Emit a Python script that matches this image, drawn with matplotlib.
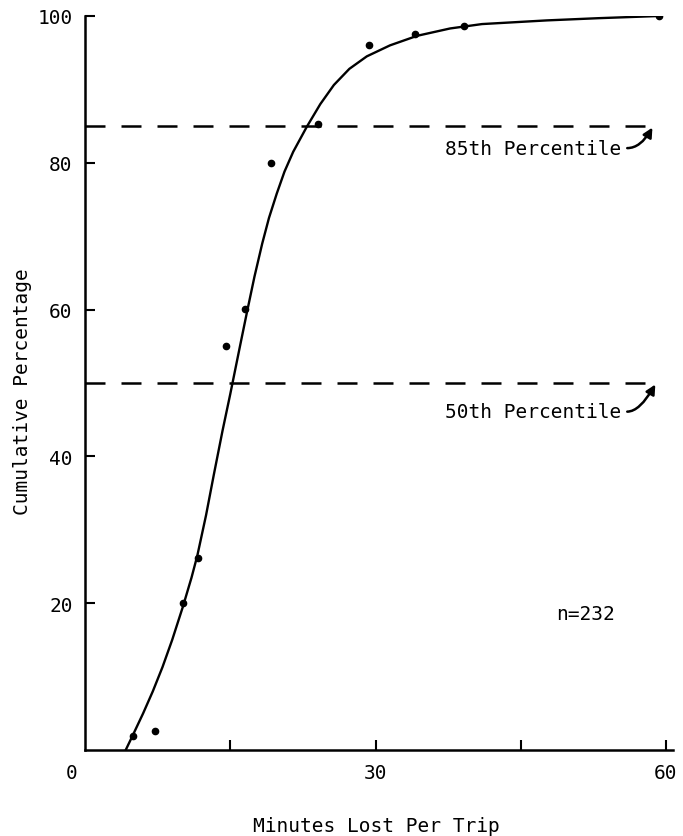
import matplotlib.pyplot as plt

plt.rcParams['font.family'] = ['DejaVu Sans Mono']

# observed points (minutes lost, cumulative %)
obs_minutes = [5.0, 7.2, 10.1, 11.65, 14.55, 16.5, 19.2, 24.1, 29.3, 34.1, 39.1, 59.3]
obs_percent = [1.9, 2.6, 20.0, 26.1, 55.0, 60.1, 80.0, 85.3, 96.1, 97.6, 98.7, 100.0]

# fitted curve
curve_minutes = [4.2, 5.0, 6.0, 7.0, 8.0, 9.0, 10.1, 11.0, 11.6, 12.5, 13.3, 14.2,
                 15.0, 16.0, 16.7, 17.5, 18.3, 19.0, 19.8, 20.6, 21.5, 22.9, 24.3,
                 25.7, 27.3, 29.1, 31.5, 34.3, 37.7, 41.0, 47.7, 53.0, 59.3]
curve_percent = [0.0, 2.2, 5.0, 8.0, 11.3, 15.0, 19.5, 23.5, 26.5, 32.0, 37.5, 43.5,
                 48.5, 55.0, 59.5, 64.5, 69.0, 72.5, 75.8, 78.8, 81.5, 84.9, 88.0,
                 90.6, 92.8, 94.5, 96.0, 97.3, 98.3, 98.9, 99.4, 99.7, 100.0]

percentiles = [85, 50]
percentile_labels = ['85th Percentile', '50th Percentile']
label_heights = [82.0, 46.1]
percentile_ends = [58.6, 58.9]

yticks = [20, 40, 60, 80, 100]
xticks = [15, 30, 45, 60]
xticklabels = ['', '30', '', '60']

fig = plt.figure(figsize=(6.83, 8.37), dpi=100)
ax = fig.add_axes([0.1245, 0.1027, 0.8605, 0.877])

ax.plot(curve_minutes, curve_percent, color='black', lw=1.7)
ax.plot(obs_minutes, obs_percent, 'o', color='black', ms=4.5)

for p, lab, yl, xend in zip(percentiles, percentile_labels, label_heights, percentile_ends):
    ax.plot([0, xend], [p, p], color='black', lw=1.8, dashes=(8, 6.4))
    ax.text(55.4, yl, lab, ha='right', va='center', fontsize=14)
    ax.annotate('', xy=(xend, p - 0.2), xytext=(56.0, yl),
                arrowprops=dict(arrowstyle='-|>', color='black', lw=1.8,
                                mutation_scale=14,
                                connectionstyle='angle3,angleA=0,angleB=60',
                                shrinkA=0, shrinkB=0))

ax.text(51.7, 18.6, 'n=232', ha='center', va='center', fontsize=14)
ax.annotate('0', xy=(0, 0), xytext=(-9.5, -16), textcoords='offset points',
            ha='center', va='center', fontsize=14)

ax.set_xlim(0, 60.7)
ax.set_ylim(0, 100)
ax.set_xticks(xticks)
ax.set_xticklabels(xticklabels)
ax.set_yticks(yticks)
ax.tick_params(axis='both', direction='in', labelsize=14, width=1.5, length=7)
ax.tick_params(axis='y', pad=9)
ax.tick_params(axis='x', pad=9)

for s in ['top', 'right']:
    ax.spines[s].set_visible(False)
for s in ['left', 'bottom']:
    ax.spines[s].set_linewidth(1.8)

ax.set_xlabel('Minutes Lost Per Trip', fontsize=14, va='center')
ax.xaxis.set_label_coords(0.495, -0.103)
ax.set_ylabel('Cumulative Percentage', fontsize=14, va='center')
ax.yaxis.set_label_coords(-0.107, 0.49)

fig.savefig('out.png', dpi=100)
